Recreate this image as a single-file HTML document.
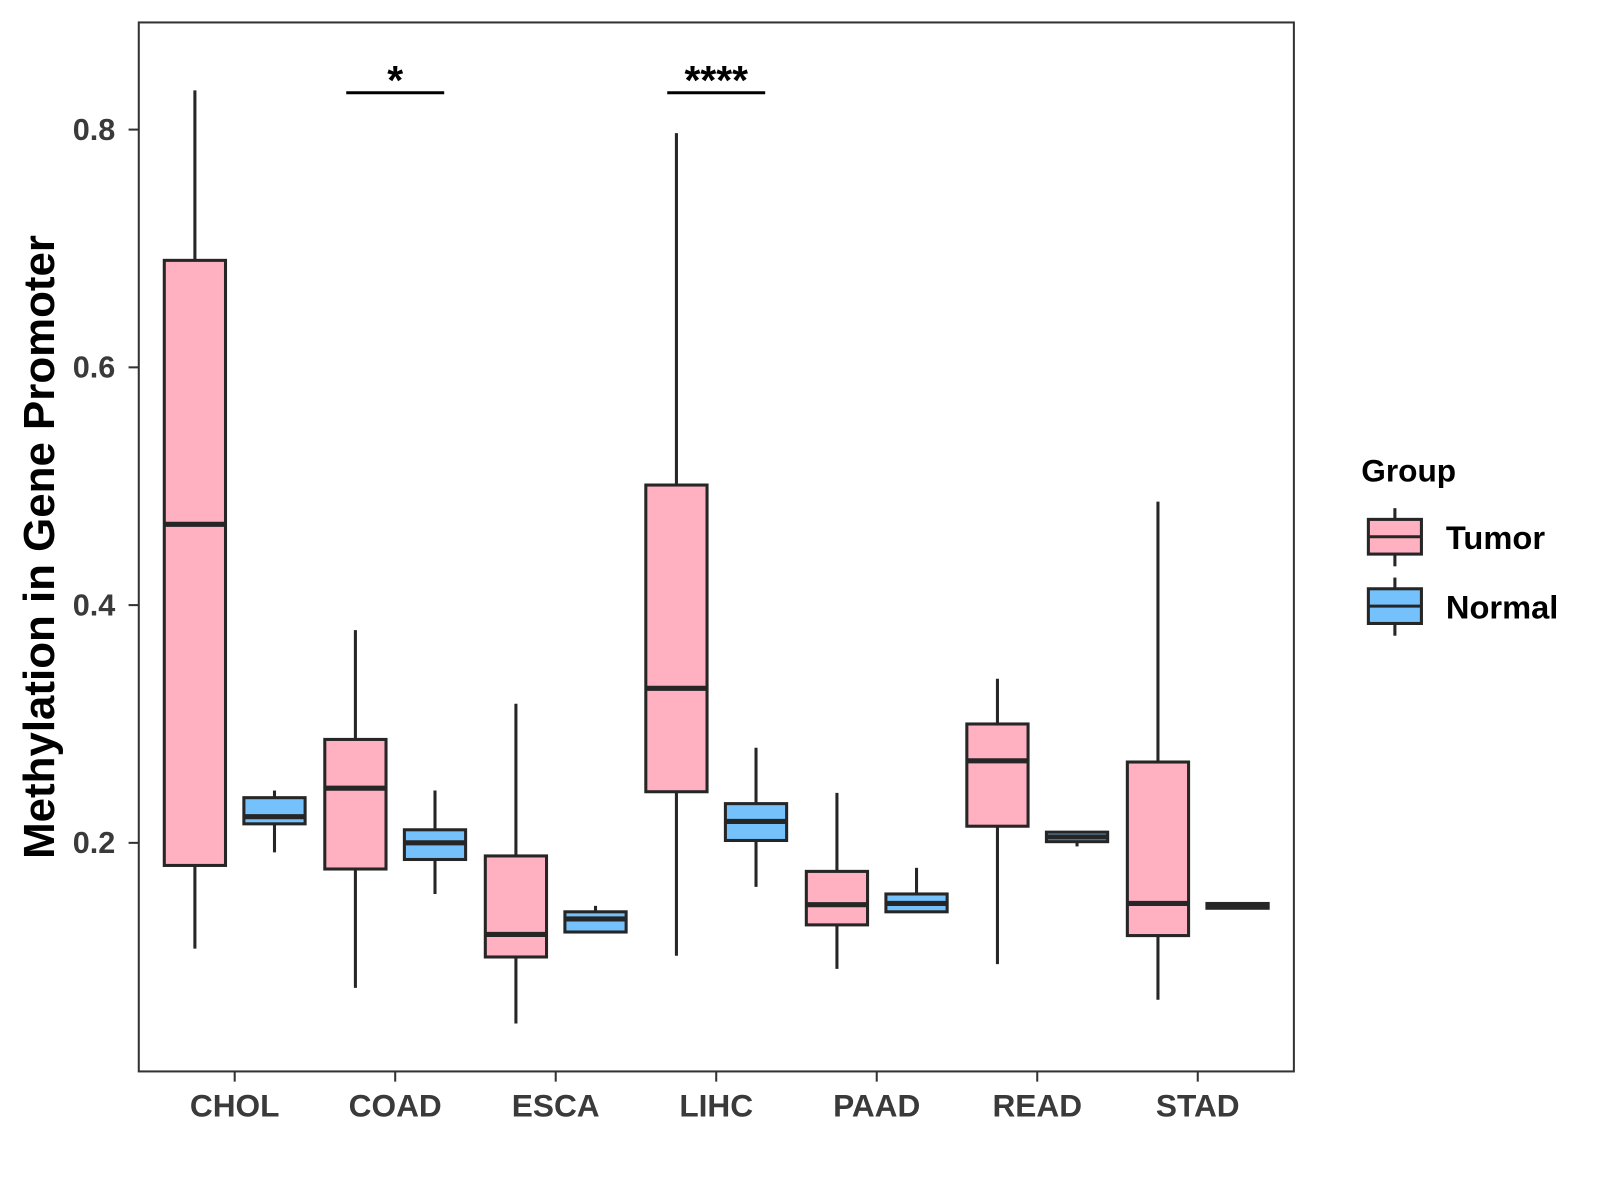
<!DOCTYPE html>
<html><head><meta charset="utf-8"><style>
html,body{margin:0;padding:0;background:#fff;}
svg{display:block;font-family:"Liberation Sans",Arial,sans-serif;}
</style></head><body>
<svg id="chart" width="1600" height="1200" viewBox="0 0 1568 1176" xmlns="http://www.w3.org/2000/svg">
<rect x="136" y="22" width="1132" height="1028" fill="#fff" stroke="#333" stroke-width="2"/>
<g id="marks"></g>
<g id="axes"></g>
<text transform="translate(53,536) rotate(-90)" text-anchor="middle" font-size="43" font-weight="bold" fill="#000">Methylation in Gene Promoter</text>
<g>
<text x="1334" y="472" font-size="31" font-weight="bold" fill="#000">Group</text>
<g>
<line x1="1367" y1="498" x2="1367" y2="555" stroke="#262626" stroke-width="3"/>
<rect x="1341" y="509" width="52" height="34" fill="#FFB0C1" stroke="#262626" stroke-width="3"/>
<line x1="1341" y1="526" x2="1393" y2="526" stroke="#262626" stroke-width="3"/>
<text x="1417" y="538" font-size="32" font-weight="bold" fill="#000">Tumor</text>
</g>
<g>
<line x1="1367" y1="566" x2="1367" y2="623" stroke="#262626" stroke-width="3"/>
<rect x="1341" y="577" width="52" height="34" fill="#74C1FB" stroke="#262626" stroke-width="3"/>
<line x1="1341" y1="594" x2="1393" y2="594" stroke="#262626" stroke-width="3"/>
<text x="1417" y="606" font-size="32" font-weight="bold" fill="#000">Normal</text>
</g>
</g>
</svg>
<script>
const categories = ["CHOL","COAD","ESCA","LIHC","PAAD","READ","STAD"];
// [low, q1, median, q3, high]
const tumorStats = [
 [0.111,0.181,0.468,0.690,0.833],
 [0.078,0.178,0.246,0.287,0.379],
 [0.048,0.104,0.123,0.189,0.317],
 [0.105,0.243,0.330,0.501,0.797],
 [0.094,0.131,0.148,0.176,0.242],
 [0.098,0.214,0.269,0.300,0.338],
 [0.068,0.122,0.149,0.268,0.487]
];
const normalStats = [
 [0.192,0.216,0.222,0.238,0.244],
 [0.157,0.186,0.200,0.211,0.244],
 [0.125,0.125,0.136,0.142,0.147],
 [0.163,0.202,0.218,0.233,0.280],
 [0.142,0.142,0.149,0.157,0.179],
 [0.197,0.201,0.205,0.209,0.209],
 [0.145,0.145,0.147,0.149,0.149]
];
const yTicks = [0.2,0.4,0.6,0.8];
const yTickLabels = ["0.2","0.4","0.6","0.8"];
const sigCategories = ["COAD","LIHC"];
const sigLabels = ["*","****"];
const sigLevel = 0.831;

const NS="http://www.w3.org/2000/svg";
const y = v => 127 + (0.8 - v) * 1165;
const x = i => 230 + i * 157.3;
const off = 39, bw = 60;
function mk(tag, attrs, parent){const e=document.createElementNS(NS,tag);for(const k in attrs)e.setAttribute(k,attrs[k]);parent.appendChild(e);return e;}
const marks=document.getElementById('marks'), axes=document.getElementById('axes');
function drawBox(cx, s, fill, name){
  const g=mk('g',{},marks);
  
  
  mk('line',{x1:cx,x2:cx,y1:y(s[4]),y2:y(s[0]),stroke:'#262626','stroke-width':3},g);
  const h=Math.max(y(s[1])-y(s[3]),2);
  mk('rect',{x:cx-bw/2,y:y(s[3]),width:bw,height:h,fill:fill,stroke:'#262626','stroke-width':3},g);
  mk('line',{x1:cx-bw/2,x2:cx+bw/2,y1:y(s[2]),y2:y(s[2]),stroke:'#262626','stroke-width':5},g);
}
categories.forEach((c,i)=>{
  drawBox(x(i)-off, tumorStats[i], '#FFB0C1', 'box-tumor-'+c.toLowerCase());
  drawBox(x(i)+off, normalStats[i], '#74C1FB', 'box-normal-'+c.toLowerCase());
  mk('line',{x1:x(i),x2:x(i),y1:1050,y2:1060,stroke:'#333','stroke-width':2},axes);
  const t=mk('text',{x:x(i),y:1094,'text-anchor':'middle','font-size':31,'font-weight':'bold',fill:'#3a3a3a'},axes);
  
  
  t.textContent=c;
});
yTicks.forEach((v,i)=>{
  mk('line',{x1:126,x2:136,y1:y(v),y2:y(v),stroke:'#333','stroke-width':2},axes);
  const t=mk('text',{x:113,y:y(v)+10,'text-anchor':'end','font-size':30,'font-weight':'bold',fill:'#3a3a3a'},axes);
  
  
  t.textContent=yTickLabels[i];
});
sigCategories.forEach((c,k)=>{
  const i=categories.indexOf(c);
  const g=mk('g',{},marks);
  
  
  mk('line',{x1:x(i)-off-9,x2:x(i)+off+9,y1:y(sigLevel),y2:y(sigLevel),stroke:'#000','stroke-width':3},g);
  const t=mk('text',{x:x(i),y:y(sigLevel)+1,'text-anchor':'middle','font-size':40,'font-weight':'bold',fill:'#000'},g);
  t.textContent=sigLabels[k];
});
</script>
</body></html>
